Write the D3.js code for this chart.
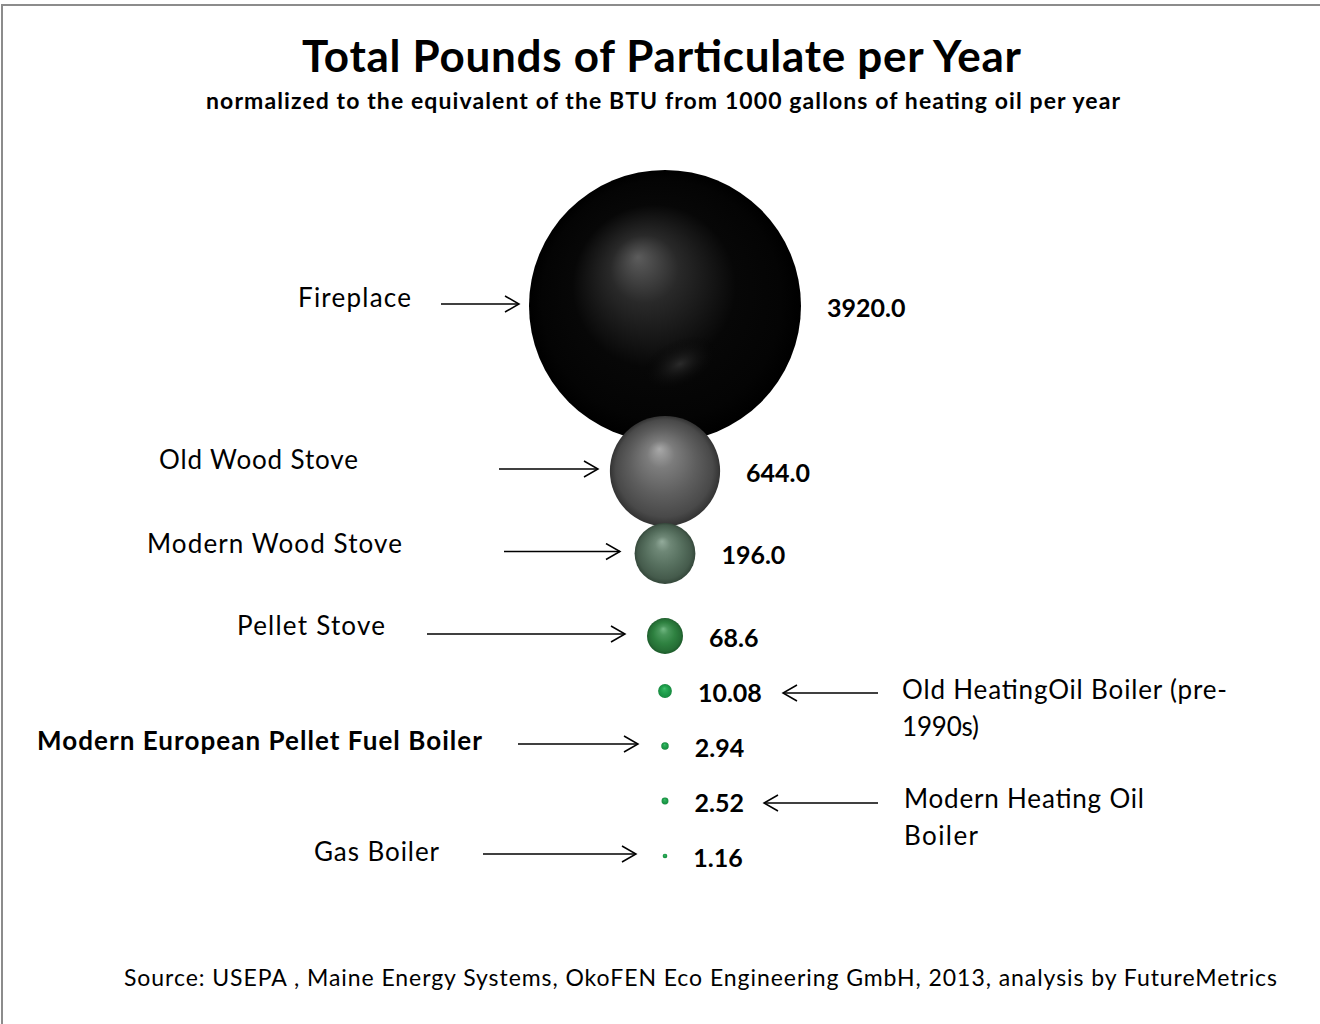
<!DOCTYPE html>
<html>
<head>
<meta charset="utf-8">
<script src="https://cdn.jsdelivr.net/npm/d3@7"></script>
<style>
  body { margin: 0; background: #fff; }
  text { font-family: Lato, "Open Sans", sans-serif; fill: #000; }
</style>
</head>
<body>
<div id="chart"></div>
<script>
// data
var categories = ["Fireplace", "Old Wood Stove", "Modern Wood Stove", "Pellet Stove",
    "Old HeatingOil Boiler (pre-1990s)", "Modern European Pellet Fuel Boiler",
    "Modern Heating Oil Boiler", "Gas Boiler"];
var values = [3920.0, 644.0, 196.0, 68.6, 10.08, 2.94, 2.52, 1.16];
var valueLabels = ["3920.0", "644.0", "196.0", "68.6", "10.08", "2.94", "2.52", "1.16"];
var rowPos = [10, 7, 5.5, 4, 3, 2, 1, 0];
var labelLines = [["Fireplace"], ["Old Wood Stove"], ["Modern Wood Stove"], ["Pellet Stove"],
    ["Old HeatingOil Boiler (pre-", "1990s)"], ["Modern European Pellet Fuel Boiler"],
    ["Modern Heating Oil", "Boiler"], ["Gas Boiler"]];

// annotation layout (label x, label width per line, vertical offset, arrow tail x, arrow head x)
var labelX = [298, 159, 147, 237, 902, 37, 904, 314];
var labelW = [[113], [199], [255], [148], [325, 77], [445], [240, 74], [125]];
var labelOff = [-8, -11, -10, -10, -1, -5, -2, -4];
var arrowFrom = [441, 499, 504, 427, 878, 518, 878, 483];
var arrowTo = [519, 598, 620, 625, 783, 638, 764, 636];
var boldLabel = [false, false, false, false, false, true, false, false];

// sphere colours: [highlight, body, edge]
var sphereColors = [
    ["#5c5c5c", "#070707", "#000000"],
    ["#a8a8a8", "#5e5e5e", "#333333"],
    ["#93ab9b", "#566f5e", "#34473a"],
    ["#72b983", "#2e8140", "#1c5a2a"],
    ["#40c56e", "#1e9d4b", "#14843b"],
    ["#40c56e", "#1e9d4b", "#14843b"],
    ["#40c56e", "#1e9d4b", "#14843b"],
    ["#40c56e", "#1e9d4b", "#14843b"]
];

var width = 1320, height = 1024;

var data = categories.map(function(c, i) {
    return { name: c, value: values[i], label: valueLabels[i], row: rowPos[i], i: i };
});

var svg = d3.select('#chart')
    .append('svg')
    .attr('width', width)
    .attr('height', height);

// frame
svg.append('rect')
    .attr('x', 2).attr('y', 5)
    .attr('width', width + 10).attr('height', height + 10)
    .attr('fill', 'none')
    .attr('stroke', '#8c8c8c')
    .attr('stroke-width', 2);

var y = d3.scaleLinear().domain([0, 10]).range([856, 306]);
var x = d3.scaleLinear().domain([0, 2]).range([400, 930]);
var r = d3.scaleSqrt().domain([0, 3920]).range([0, 136]);

var defs = svg.append('defs');
sphereColors.forEach(function(c, i) {
    var g = defs.append('radialGradient')
        .attr('id', 'sph' + i)
        .attr('cx', '0.5').attr('cy', '0.5').attr('r', '0.5')
        .attr('fx', i === 0 ? '0.4' : '0.45').attr('fy', i === 0 ? '0.32' : '0.3');
    g.append('stop').attr('offset', '0%').attr('stop-color', c[0]);
    g.append('stop').attr('offset', '25%').attr('stop-color', d3.interpolateRgb(c[0], c[1])(0.6));
    g.append('stop').attr('offset', '60%').attr('stop-color', c[1]);
    g.append('stop').attr('offset', '88%').attr('stop-color', d3.interpolateRgb(c[1], c[2])(0.5));
    g.append('stop').attr('offset', '100%').attr('stop-color', c[2]);
});
// faint second highlight on the big sphere
var g2 = defs.append('radialGradient').attr('id', 'glow')
    .attr('cx', '0.5').attr('cy', '0.5').attr('r', '0.5');
g2.append('stop').attr('offset', '0%').attr('stop-color', '#2e2e2e').attr('stop-opacity', 0.9);
g2.append('stop').attr('offset', '100%').attr('stop-color', '#000').attr('stop-opacity', 0);

defs.append('marker')
    .attr('id', 'head')
    .attr('markerUnits', 'userSpaceOnUse')
    .attr('markerWidth', 18).attr('markerHeight', 20)
    .attr('refX', 15).attr('refY', 9)
    .attr('orient', 'auto')
    .append('path')
    .attr('d', 'M1,1 L15,9 L1,17')
    .attr('fill', 'none')
    .attr('stroke', '#000')
    .attr('stroke-width', 1.5);

// title
svg.append('text')
    .attr('x', 302).attr('y', 72)
    .attr('font-size', '44px')
    .attr('font-weight', 'bold')
    .attr('textLength', 719).attr('lengthAdjust', 'spacing')
    .text('Total Pounds of Particulate per Year');
svg.append('text')
    .attr('x', 206).attr('y', 109)
    .attr('font-size', '23px')
    .attr('font-weight', 'bold')
    .attr('textLength', 914).attr('lengthAdjust', 'spacing')
    .text('normalized to the equivalent of the BTU from 1000 gallons of heating oil per year');

// bubbles
svg.selectAll('.bubble')
    .data(data)
    .enter().append('circle')
    .attr('class', 'bubble')
    .attr('cx', x(1))
    .attr('cy', function(d) { return y(d.row); })
    .attr('r', function(d) { return r(d.value); })
    .attr('fill', function(d) { return 'url(#sph' + d.i + ')'; });

var gx = x(1) + 15, gy = y(10) + 58;
svg.append('ellipse')
    .attr('cx', gx).attr('cy', gy)
    .attr('rx', 42).attr('ry', 24)
    .attr('transform', 'rotate(-25,' + gx + ',' + gy + ')')
    .attr('fill', 'url(#glow)');

// value labels
svg.selectAll('.val')
    .data(data)
    .enter().append('text')
    .attr('class', 'val')
    .attr('x', function(d) { return x(1) + r(d.value) + 26; })
    .attr('y', function(d) { return y(d.row) + 2; })
    .attr('dy', '0.35em')
    .attr('font-size', '25px')
    .attr('font-weight', 'bold')
    .text(function(d) { return d.label; });

// arrows
svg.selectAll('.arrow')
    .data(data)
    .enter().append('line')
    .attr('class', 'arrow')
    .attr('x1', function(d) { return arrowFrom[d.i]; })
    .attr('x2', function(d) { return arrowTo[d.i]; })
    .attr('y1', function(d) { return y(d.row) + (arrowFrom[d.i] > x(1) ? 2 : -2); })
    .attr('y2', function(d) { return y(d.row) + (arrowFrom[d.i] > x(1) ? 2 : -2); })
    .attr('stroke', '#000')
    .attr('stroke-width', 1.5)
    .attr('marker-end', 'url(#head)');

// category labels
var labels = svg.selectAll('.cat')
    .data(data)
    .enter().append('text')
    .attr('class', 'cat')
    .attr('y', function(d) { return y(d.row) + labelOff[d.i]; })
    .attr('font-size', '26px')
    .attr('font-weight', function(d) { return boldLabel[d.i] ? 'bold' : 'normal'; });
labels.selectAll('tspan')
    .data(function(d) {
        return labelLines[d.i].map(function(t, k) { return { t: t, x: labelX[d.i], w: labelW[d.i][k] }; });
    })
    .enter().append('tspan')
    .attr('x', function(d) { return d.x; })
    .attr('dy', function(d, k) { return k === 0 ? '0.35em' : '37px'; })
    .attr('textLength', function(d) { return d.w; })
    .attr('lengthAdjust', 'spacing')
    .text(function(d) { return d.t; });

// source
svg.append('text')
    .attr('x', 124).attr('y', 986)
    .attr('font-size', '23px')
    .attr('textLength', 1153).attr('lengthAdjust', 'spacing')
    .text('Source:  USEPA ,  Maine Energy Systems,  OkoFEN Eco Engineering GmbH, 2013, analysis by FutureMetrics');
</script>
</body>
</html>
